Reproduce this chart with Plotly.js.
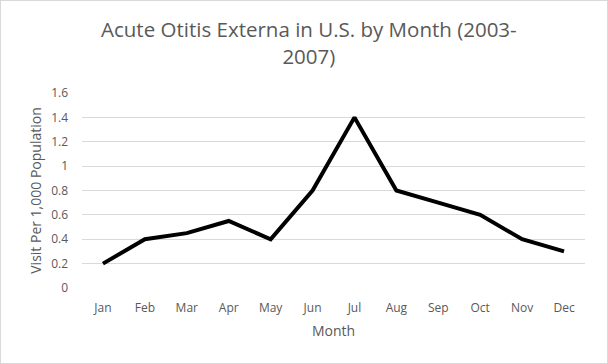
<!DOCTYPE html>
<html>
<head>
<meta charset="utf-8">
<script src="https://cdn.plot.ly/plotly-3.0.1.min.js"></script>
<style>
html,body{margin:0;padding:0;background:#fff;}
#chart{width:608px;height:364px;box-sizing:border-box;}
#frame{position:absolute;left:0;top:0;width:606px;height:362px;border:1px solid #d9d9d9;pointer-events:none;}
</style>
</head>
<body>
<div id="chart"></div>
<div id="frame"></div>
<script>
const months = ["Jan","Feb","Mar","Apr","May","Jun","Jul","Aug","Sep","Oct","Nov","Dec"];
const visits = [0.2, 0.4, 0.45, 0.55, 0.4, 0.8, 1.4, 0.8, 0.7, 0.6, 0.4, 0.3];
const yTicks = [0, 0.2, 0.4, 0.6, 0.8, 1, 1.2, 1.4, 1.6];

const font = "Segoe UI, 'Open Sans', 'Liberation Sans', sans-serif";
Plotly.newPlot("chart", [{
  x: months,
  y: visits,
  type: "scatter",
  mode: "lines",
  line: {color: "#000000", width: 4},
  hoverinfo: "skip"
}], {
  width: 608,
  height: 364,
  margin: {l: 82, r: 23, t: 93, b: 76},
  paper_bgcolor: "#ffffff",
  plot_bgcolor: "#ffffff",
  showlegend: false,
  title: {
    text: "Acute Otitis Externa in U.S. by Month (2003-<br>2007)",
    font: {family: font, size: 20.5, color: "#595959"},
    x: 0.508, xanchor: "center",
    y: 0.898, yanchor: "middle"
  },
  xaxis: {
    type: "category",
    range: [-0.5, 11.5],
    showgrid: false,
    zeroline: false,
    showline: false,
    ticks: "",
    ticklabelstandoff: 11,
    tickfont: {family: font, size: 12, color: "#595959"},
    title: {text: "Month", font: {family: font, size: 14, color: "#595959"}, standoff: 11}
  },
  yaxis: {
    range: [0, 1.6],
    tickvals: yTicks,
    ticktext: yTicks.map(String),
    showgrid: true,
    gridcolor: "#d9d9d9",
    gridwidth: 1,
    zeroline: false,
    showline: false,
    ticks: "",
    ticklabelstandoff: 13,
    tickfont: {family: font, size: 12, color: "#595959"},
    title: {text: "Visit Per 1,000 Population", font: {family: font, size: 14, color: "#595959"}, standoff: 6}
  }
}, {staticPlot: true});
</script>
</body>
</html>
